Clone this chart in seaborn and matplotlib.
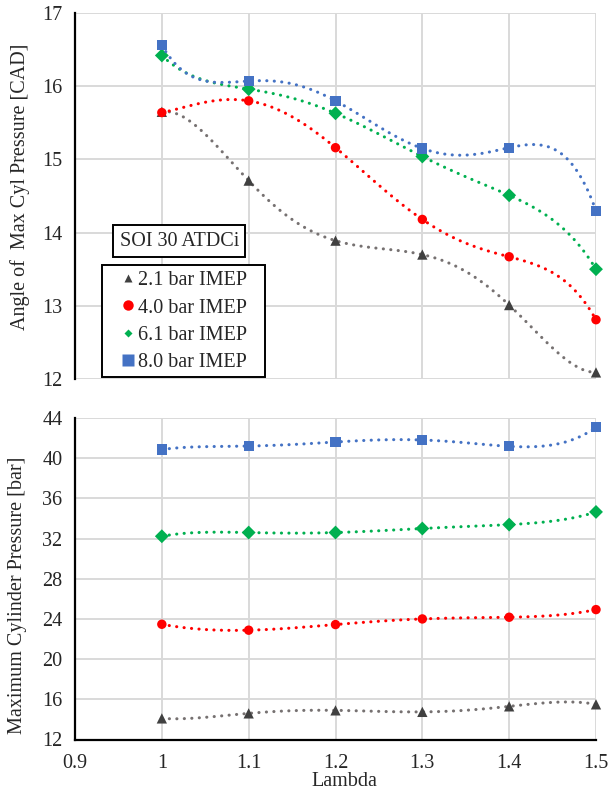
import warnings
import numpy as np
import pandas as pd
import matplotlib
matplotlib.use("Agg")
import matplotlib.pyplot as plt
from matplotlib.lines import Line2D
from matplotlib.patches import Rectangle
import seaborn as sns

warnings.filterwarnings("ignore")

# ---- data ----
lam = [1.0, 1.1, 1.2, 1.3, 1.4, 1.5]
series = ["2.1 bar IMEP", "4.0 bar IMEP", "6.1 bar IMEP", "8.0 bar IMEP"]

# Crank angle of peak cylinder pressure [CAD]
angle_21 = [15.65, 14.71, 13.89, 13.70, 13.01, 12.09]
angle_40 = [15.64, 15.80, 15.16, 14.18, 13.67, 12.81]
angle_61 = [16.42, 15.96, 15.63, 15.04, 14.51, 13.50]
angle_80 = [16.56, 16.07, 15.80, 15.15, 15.16, 14.30]

# Peak cylinder pressure [bar]
pmax_21 = [14.1, 14.6, 14.9, 14.75, 15.3, 15.5]
pmax_40 = [23.47, 22.88, 23.44, 24.0, 24.17, 24.93]
pmax_61 = [32.23, 32.6, 32.6, 33.0, 33.39, 34.65]
pmax_80 = [40.86, 41.21, 41.61, 41.81, 41.18, 43.07]

x_ticks = [0.9, 1.0, 1.1, 1.2, 1.3, 1.4, 1.5]
x_ticklabels = ["0.9", "1", "1.1", "1.2", "1.3", "1.4", "1.5"]
top_yticks = [12, 13, 14, 15, 16, 17]
bot_yticks = [12, 16, 20, 24, 28, 32, 36, 40, 44]

# ---- style ----
sns.set_style("white")
plt.rcParams["font.family"] = ["Liberation Serif", "DejaVu Serif"]

FS = 14.5
colors = {"2.1 bar IMEP": "#404040", "4.0 bar IMEP": "#ff0000",
          "6.1 bar IMEP": "#00b050", "8.0 bar IMEP": "#4472c4"}
line_colors = {"2.1 bar IMEP": "#767171", "4.0 bar IMEP": "#ff0000",
               "6.1 bar IMEP": "#00b050", "8.0 bar IMEP": "#4472c4"}
markers = {"2.1 bar IMEP": "^", "4.0 bar IMEP": "o",
           "6.1 bar IMEP": "D", "8.0 bar IMEP": "s"}
msize = {"2.1 bar IMEP": 55, "4.0 bar IMEP": 46,
         "6.1 bar IMEP": 50, "8.0 bar IMEP": 54}

W, H = 613, 792
fig = plt.figure(figsize=(W / 100, H / 100), dpi=100)
ax1 = fig.add_axes([75 / W, 1 - 379 / H, 521 / W, 366 / H])
ax2 = fig.add_axes([75 / W, 1 - 739.5 / H, 521 / W, 321.5 / H])


def draw_panel(ax, values):
    for z, (name, ys) in enumerate(zip(series, values)):
        # 5th-order polynomial trendline through the six points
        sns.regplot(x=lam, y=ys, ax=ax, order=5, ci=None, scatter=False,
                    truncate=True,
                    line_kws=dict(color=line_colors[name], lw=2.2,
                                  linestyle=(0, (0.05, 2.4)),
                                  dash_capstyle="round",
                                  zorder=3 + 2 * z))
        df = pd.DataFrame({"Lambda": lam, "v": ys})
        sns.scatterplot(data=df, x="Lambda", y="v", ax=ax,
                        marker=markers[name], s=msize[name],
                        color=colors[name], edgecolor="none",
                        linewidth=0, zorder=4 + 2 * z, clip_on=False)
    ax.set_xlabel("")
    ax.set_ylabel("")


draw_panel(ax1, [angle_21, angle_40, angle_61, angle_80])
draw_panel(ax2, [pmax_21, pmax_40, pmax_61, pmax_80])

grid_c = "#d9d9d9"
for ax, yt in ((ax1, top_yticks), (ax2, bot_yticks)):
    ax.set_xlim(0.9, 1.5)
    ax.set_ylim(yt[0], yt[-1])
    ax.set_xticks(x_ticks)
    ax.set_yticks(yt)
    ax.set_yticklabels([str(v) for v in yt])
    ax.grid(True, color=grid_c, lw=1.4)
    ax.set_axisbelow(True)
    for s in ("top", "right", "bottom"):
        ax.spines[s].set_visible(False)
    ax.spines["left"].set_color("black")
    ax.spines["left"].set_linewidth(1.6)
    ax.tick_params(axis="y", direction="inout", length=8, width=1.4,
                   color="black", labelsize=FS, pad=5)

ax1.tick_params(axis="x", bottom=False, labelbottom=False)
ax2.spines["bottom"].set_visible(True)
ax2.spines["bottom"].set_color("black")
ax2.spines["bottom"].set_linewidth(1.6)
ax2.set_xticklabels(x_ticklabels)
ax2.tick_params(axis="x", direction="inout", length=8, width=1.4,
                color="black", labelsize=FS, pad=6.5)

# axis titles
fig.text(20 / W, 1 - 187 / H, "Angle of  Max Cyl Pressure [CAD]",
         rotation=90, ha="center", va="center", fontsize=FS)
fig.text(18 / W, 1 - 595 / H, "Maximum Cylinder Pressure [bar]",
         rotation=90, ha="center", va="center", fontsize=FS)
fig.text(344 / W, 1 / H, "Lambda", ha="center", va="bottom",
         fontsize=FS)

# annotation box
ax1.text(0.2, 0.377, "SOI 30 ATDCi", transform=ax1.transAxes,
         ha="center", va="center", fontsize=FS, zorder=20,
         bbox=dict(boxstyle="square,pad=0.3", fc="white", ec="black",
                   lw=1.4))

# legend: box outline plus marker/label rows
ax1.add_patch(Rectangle((0.0518, 0.0055), 0.3129, 0.306,
                        transform=ax1.transAxes, fc="white", ec="black",
                        lw=1.4, zorder=19, clip_on=False))
leg_ms = {"2.1 bar IMEP": 5.5, "4.0 bar IMEP": 7.5,
          "6.1 bar IMEP": 4.5, "8.0 bar IMEP": 8}
handles = [Line2D([], [], ls="none", marker=markers[n], color=colors[n],
                  markeredgecolor="none", markersize=leg_ms[n])
           for n in series]
leg = ax1.legend(handles, series, loc="center left",
                 bbox_to_anchor=(0.0845, 0.157), fontsize=FS,
                 frameon=False, handlelength=0.9, handletextpad=0.05,
                 labelspacing=0.4, borderpad=0, borderaxespad=0)
leg.set_zorder(21)

fig.savefig("out.png", dpi=100, facecolor="white")
